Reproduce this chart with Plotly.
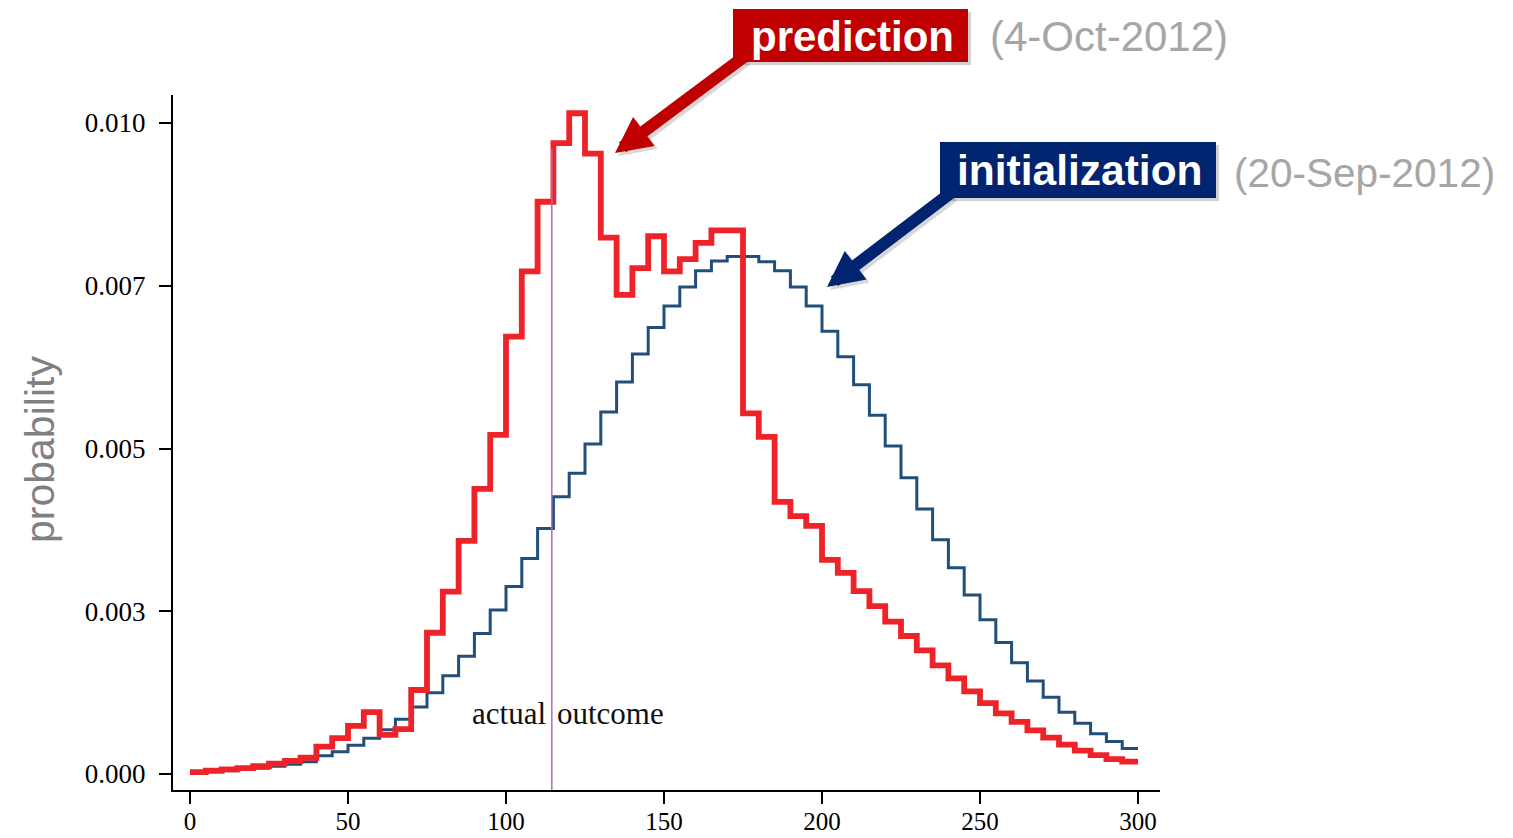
import plotly.graph_objects as go

# ---- data ----
bin_left = [0, 5, 10, 15, 20, 25, 30, 35, 40, 45, 50, 55, 60, 65, 70, 75, 80, 85, 90, 95,
            100, 105, 110, 115, 120, 125, 130, 135, 140, 145, 150, 155, 160, 165, 170, 175,
            180, 185, 190, 195, 200, 205, 210, 215, 220, 225, 230, 235, 240, 245, 250, 255,
            260, 265, 270, 275, 280, 285, 290, 295]
bin_right_end = 300

prediction = [0.00003, 0.00005, 0.00007, 0.00009, 0.00012, 0.00016, 0.00020, 0.00025,
              0.00042, 0.00055, 0.00074, 0.00095, 0.00060, 0.00069, 0.00129, 0.00217,
              0.00280, 0.00358, 0.00438, 0.00521, 0.00672, 0.00772, 0.00879, 0.00969,
              0.01015, 0.00953, 0.00824, 0.00736, 0.00777, 0.00826, 0.00772, 0.00791,
              0.00816, 0.00835, 0.00835, 0.00554, 0.00518, 0.00418, 0.00396, 0.00381,
              0.00329, 0.00309, 0.00281, 0.00258, 0.00234, 0.00212, 0.00190, 0.00167,
              0.00147, 0.00127, 0.00109, 0.00093, 0.00080, 0.00067, 0.00056, 0.00045,
              0.00036, 0.00029, 0.00023, 0.00019]

initialization = [0.00003, 0.00004, 0.00005, 0.00007, 0.00009, 0.00012, 0.00015, 0.00019,
                  0.00028, 0.00034, 0.00044, 0.00055, 0.00068, 0.00084, 0.00103, 0.00125,
                  0.00151, 0.00181, 0.00216, 0.00252, 0.00288, 0.00331, 0.00377, 0.00426,
                  0.00462, 0.00507, 0.00556, 0.00602, 0.00645, 0.00686, 0.00719, 0.00748,
                  0.00773, 0.00788, 0.00795, 0.00795, 0.00787, 0.00773, 0.00748, 0.00719,
                  0.00680, 0.00641, 0.00598, 0.00551, 0.00504, 0.00455, 0.00407, 0.00360,
                  0.00317, 0.00275, 0.00237, 0.00202, 0.00171, 0.00143, 0.00118, 0.00095,
                  0.00078, 0.00062, 0.00050, 0.00039]

actual_outcome = 114.5
outcome_line_top = 0.0096

x_tickvals = [0, 50, 100, 150, 200, 250, 300]
y_tickvals = [0, 0.0025, 0.005, 0.0075, 0.01]
y_ticktext = ["0.000", "0.003", "0.005", "0.007", "0.010"]

# ---- geometry: positions given in screen pixels; page body has an 8px margin ----
OFF = 8
W, H = 1513 - OFF, 838 - OFF
L, R, T, B = 173, 1160, 95, 790  # plot area edges on screen


def px(xp):
    return (xp - L) / (R - L)


def py(yp):
    return (B - yp) / (B - T)


step_x = bin_left + [bin_right_end]

fig = go.Figure()
fig.add_trace(go.Scatter(x=step_x, y=initialization + [initialization[-1]], mode="lines",
                         line=dict(color="#214F7A", width=3, shape="hv"),
                         name="initialization", hoverinfo="skip"))
fig.add_trace(go.Scatter(x=step_x, y=prediction + [prediction[-1]], mode="lines",
                         line=dict(color="#EE2229", width=5.8, shape="hv"),
                         name="prediction", hoverinfo="skip"))

shapes = [
    dict(type="line", xref="x", yref="y", x0=actual_outcome, x1=actual_outcome,
         y0=-0.00025, y1=outcome_line_top, line=dict(color="#B06CC0", width=1.5)),
]

# label boxes (with soft shadow)
for (x0, y0, x1, y1, col) in [(733, 9, 968, 62, "#C00000"), (940, 142, 1216, 198, "#002470")]:
    shapes.append(dict(type="rect", xref="paper", yref="paper",
                       x0=px(x0 + 3), x1=px(x1 + 3), y0=py(y1 + 3), y1=py(y0 + 3),
                       fillcolor="rgba(0,0,0,0.18)", line=dict(width=0), layer="below"))
    shapes.append(dict(type="rect", xref="paper", yref="paper",
                       x0=px(x0), x1=px(x1), y0=py(y1), y1=py(y0),
                       fillcolor=col, line=dict(width=0), layer="below"))

annotations = [
    # actual outcome labels
    dict(x=actual_outcome, y=0.00093, xref="x", yref="y", text="actual", showarrow=False,
         xanchor="right", yanchor="middle", xshift=-4,
         font=dict(family="Liberation Serif", size=31, color="#111111")),
    dict(x=actual_outcome, y=0.00093, xref="x", yref="y", text="outcome", showarrow=False,
         xanchor="left", yanchor="middle", xshift=3,
         font=dict(family="Liberation Serif", size=31, color="#111111")),
    # y axis title
    dict(x=px(40), y=py(450), xref="paper", yref="paper", text="probability", textangle=-90,
         showarrow=False, xanchor="center", yanchor="middle",
         font=dict(family="Liberation Sans", size=41, color="#808080")),
    # box texts
    dict(x=px(852), y=py(36), xref="paper", yref="paper", text="<b>prediction</b>",
         showarrow=False, xanchor="center", yanchor="middle",
         font=dict(family="Liberation Sans", size=42, color="white")),
    dict(x=px(988), y=py(37), xref="paper", yref="paper", text="(4-Oct-2012)",
         showarrow=False, xanchor="left", yanchor="middle",
         font=dict(family="Liberation Sans", size=42, color="#A6A6A6")),
    dict(x=px(1080), y=py(170), xref="paper", yref="paper", text="<b>initialization</b>",
         showarrow=False, xanchor="center", yanchor="middle",
         font=dict(family="Liberation Sans", size=42.5, color="white")),
    dict(x=px(1232), y=py(173), xref="paper", yref="paper", text="(20-Sep-2012)",
         showarrow=False, xanchor="left", yanchor="middle",
         font=dict(family="Liberation Sans", size=40.5, color="#A6A6A6")),
]

# arrows (shadow + arrow)
for (tipx, tipy, tailx, taily, col) in [(615, 153, 745, 56, "#C00000"), (827, 287, 952, 192, "#002470")]:
    annotations.append(dict(x=px(tipx + 3), y=py(tipy + 3), xref="paper", yref="paper", text="",
                            showarrow=True, ax=tailx - tipx, ay=taily - tipy, axref="pixel", ayref="pixel",
                            arrowhead=2, arrowsize=0.6, arrowwidth=12, arrowcolor="rgba(0,0,0,0.15)",
                            standoff=0))
    annotations.append(dict(x=px(tipx), y=py(tipy), xref="paper", yref="paper", text="",
                            showarrow=True, ax=tailx - tipx, ay=taily - tipy, axref="pixel", ayref="pixel",
                            arrowhead=2, arrowsize=0.6, arrowwidth=12, arrowcolor=col, standoff=0))

fig.update_layout(
    width=W, height=H,
    margin=dict(l=L - OFF, r=(W + OFF) - R, t=T - OFF, b=(H + OFF) - B, pad=0, autoexpand=False),
    paper_bgcolor="white", plot_bgcolor="white",
    showlegend=False,
    shapes=shapes,
    annotations=annotations,
    xaxis=dict(range=[(L - 190) / 3.16, (R - 190) / 3.16], tickvals=x_tickvals, automargin=False,
               showgrid=False, zeroline=False, showline=True, linecolor="black", linewidth=2,
               ticks="outside", ticklen=12, tickwidth=2, tickcolor="black", ticklabelstandoff=-4,
               tickfont=dict(family="Liberation Serif", size=25, color="black")),
    yaxis=dict(range=[(774 - B) / 65100, (774 - T) / 65100], tickvals=y_tickvals, ticktext=y_ticktext,
               automargin=False,
               showgrid=False, zeroline=False, showline=True, linecolor="black", linewidth=2,
               ticks="outside", ticklen=12, tickwidth=2, tickcolor="black", ticklabelstandoff=8,
               tickfont=dict(family="Liberation Serif", size=27, color="black")),
)

fig.write_html("out.html")
